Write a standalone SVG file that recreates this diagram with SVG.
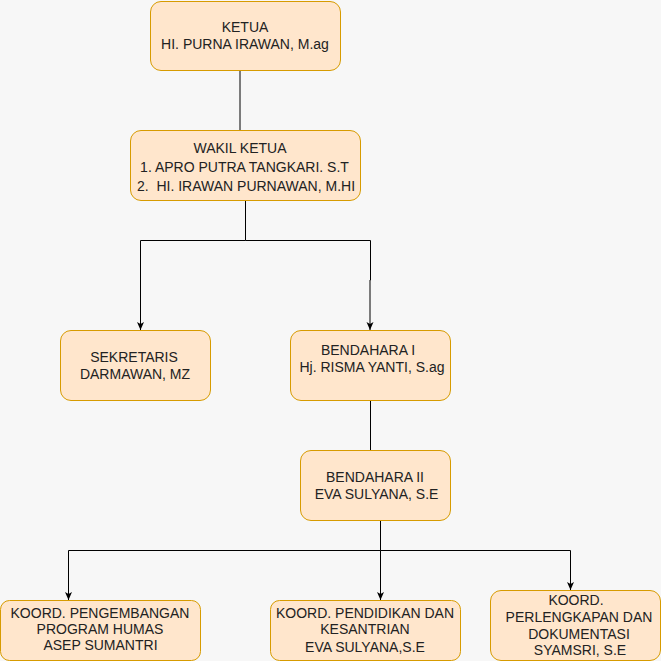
<svg xmlns="http://www.w3.org/2000/svg" width="661" height="661" viewBox="0 0 661 661">
  <style>
    .node rect { fill: #ffe6cc; stroke: #d79b00; stroke-width: 1; }
    .node text { font-family: "Liberation Sans", Arial, sans-serif; font-size: 14px; fill: #222; text-anchor: middle; }
    .edge { fill: none; stroke: #000; stroke-width: 1; }
  </style>
  <defs>
    <marker id="arrow" viewBox="0 0 8 8" refX="8" refY="4" markerWidth="8" markerHeight="8" markerUnits="userSpaceOnUse" orient="auto">
      <path d="M0,0.5 L8,4 L0,7.5 L2,4 Z" fill="#000"/>
    </marker>
  </defs>
  <rect x="0" y="0" width="661" height="661" fill="#f7f7f7"/>

  <g id="connectors">
    <path class="edge" d="M240 70.5 V130.5"/>
    <path class="edge" d="M245.5 200.5 V240.5 H140.5 V330" marker-end="url(#arrow)"/>
    <path class="edge" d="M245.5 240.5 H370.5 V280 H370 V330" marker-end="url(#arrow)"/>
    <path class="edge" d="M370.5 400.5 V450.5"/>
    <path class="edge" d="M380.5 520.5 V550.5 H68.5 V600" marker-end="url(#arrow)"/>
    <path class="edge" d="M380.5 550.5 V600" marker-end="url(#arrow)"/>
    <path class="edge" d="M380.5 550.5 H570.5 V590" marker-end="url(#arrow)"/>
  </g>

  <g id="ketua" class="node">
    <rect x="150.5" y="1.5" width="190" height="69" rx="10.5"/>
    <text x="245" y="32.3">KETUA</text>
    <text x="245" y="49">HI. PURNA IRAWAN, M.ag</text>
  </g>

  <g id="wakil-ketua" class="node">
    <rect x="130.5" y="130.5" width="230" height="70" rx="10.5"/>
    <text x="240" y="153.3">WAKIL KETUA</text>
    <text x="244.5" y="171.7">1. APRO PUTRA TANGKARI. S.T</text>
    <text x="246" y="190.7" xml:space="preserve">2.  HI. IRAWAN PURNAWAN, M.HI</text>
  </g>

  <g id="sekretaris" class="node">
    <rect x="60.5" y="330.5" width="150" height="70" rx="10.5"/>
    <text x="134" y="361.7">SEKRETARIS</text>
    <text x="135" y="379">DARMAWAN, MZ</text>
  </g>

  <g id="bendahara-1" class="node">
    <rect x="290.5" y="330.5" width="160" height="70" rx="10.5"/>
    <text x="368" y="355">BENDAHARA I</text>
    <text x="372" y="371.7">Hj. RISMA YANTI, S.ag</text>
  </g>

  <g id="bendahara-2" class="node">
    <rect x="300.5" y="450.5" width="150" height="70" rx="10.5"/>
    <text x="375" y="482.3">BENDAHARA II</text>
    <text x="376.5" y="499">EVA SULYANA, S.E</text>
  </g>

  <g id="koord-humas" class="node">
    <rect x="0.5" y="600.5" width="200" height="60" rx="9"/>
    <text x="100" y="617.7">KOORD. PENGEMBANGAN</text>
    <text x="100" y="633.7">PROGRAM HUMAS</text>
    <text x="100.5" y="649.7">ASEP SUMANTRI</text>
  </g>

  <g id="koord-pendidikan" class="node">
    <rect x="270.5" y="600.5" width="190" height="60" rx="9"/>
    <text x="365" y="617.7">KOORD. PENDIDIKAN DAN</text>
    <text x="365" y="634.3">KESANTRIAN</text>
    <text x="365" y="651.7">EVA SULYANA,S.E</text>
  </g>

  <g id="koord-perlengkapan" class="node">
    <rect x="490.5" y="590.5" width="170" height="70" rx="10.5"/>
    <text x="576" y="605">KOORD.</text>
    <text x="579" y="622.3">PERLENGKAPAN DAN</text>
    <text x="579" y="639">DOKUMENTASI</text>
    <text x="580" y="655">SYAMSRI, S.E</text>
  </g>
</svg>
